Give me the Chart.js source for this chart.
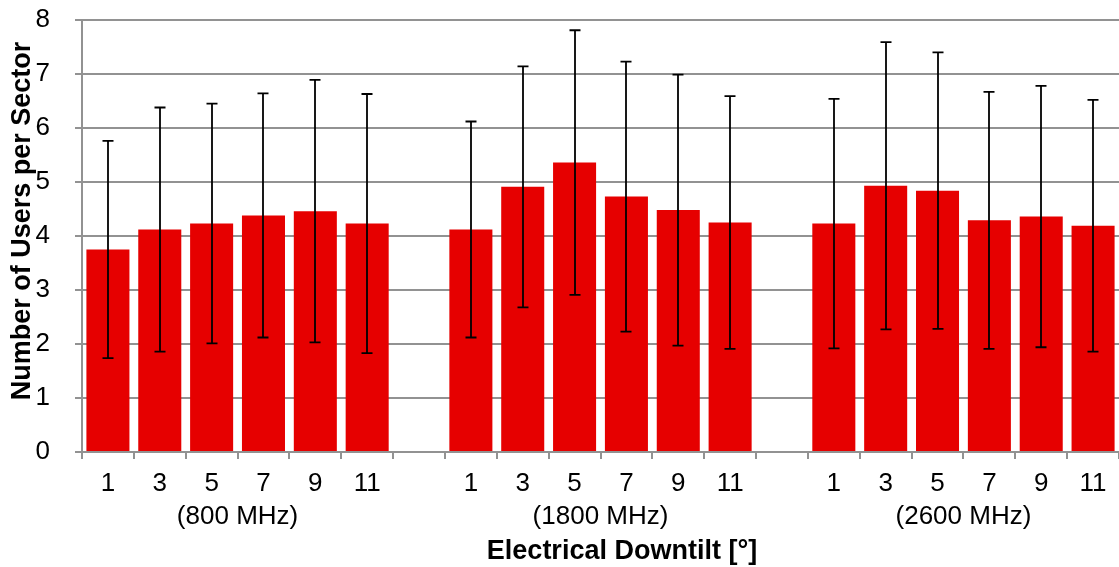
<!DOCTYPE html>
<html>
<head>
<meta charset="utf-8">
<script src="https://cdn.jsdelivr.net/npm/chart.js@4.4.1/dist/chart.umd.min.js"></script>
<style>
  html, body { margin: 0; padding: 0; background: #fff; }
  #wrap { width: 1119px; height: 567px; position: relative; }
</style>
</head>
<body>
<div id="wrap"><canvas id="usersChart"></canvas></div>
<script>
  // 값은 그림에서 읽음 (평균 ± 표준편차)
  const tilts = ['1', '3', '5', '7', '9', '11'];
  const bands = ['(800 MHz)', '(1800 MHz)', '(2600 MHz)'];

  const mean800  = [3.75, 4.12, 4.23, 4.38, 4.46, 4.23];
  const sd800    = [2.01, 2.26, 2.22, 2.26, 2.43, 2.40];
  const mean1800 = [4.12, 4.91, 5.36, 4.73, 4.48, 4.25];
  const sd1800   = [2.00, 2.23, 2.45, 2.50, 2.51, 2.34];
  const mean2600 = [4.23, 4.93, 4.84, 4.29, 4.36, 4.19];
  const sd2600   = [2.31, 2.66, 2.56, 2.38, 2.42, 2.33];

  const yMin = 0, yMax = 8, yStep = 1;
  const yTitle = 'Number of Users per Sector';
  const xTitle = 'Electrical Downtilt [°]';

  const TOKENS = {
    bar: '#E60000',
    grid: '#929292',
    text: '#000000',
    font: "'Liberation Sans', Arial, sans-serif",
  };

  // 그룹 사이에 빈 카테고리 하나씩
  const means = [mean800, mean1800, mean2600];
  const sds = [sd800, sd1800, sd2600];
  const labels = [], values = [], errors = [], groups = [];
  means.forEach((m, g) => {
    if (g > 0) { labels.push(''); values.push(null); errors.push(null); }
    const start = labels.length;
    tilts.forEach((t, i) => { labels.push(t); values.push(m[i]); errors.push(sds[g][i]); });
    groups.push({ text: bands[g], from: start, to: labels.length - 1 });
  });

  // 오차막대
  const ErrorBars = {
    id: 'ErrorBars',
    afterDatasetsDraw(chart) {
      const { ctx } = chart;
      const y = chart.scales.y;
      const bars = chart.getDatasetMeta(0).data;
      const cap = 5.5;
      ctx.save();
      ctx.strokeStyle = '#000';
      ctx.lineWidth = 1.8;
      values.forEach((v, i) => {
        if (v == null) return;
        const x = Math.round(bars[i].x);
        const top = y.getPixelForValue(v + errors[i]);
        const bot = y.getPixelForValue(v - errors[i]);
        ctx.beginPath();
        ctx.moveTo(x, top); ctx.lineTo(x, bot);
        ctx.moveTo(x - cap, top); ctx.lineTo(x + cap, top);
        ctx.moveTo(x - cap, bot); ctx.lineTo(x + cap, bot);
        ctx.stroke();
      });
      ctx.restore();
    }
  };

  // 주파수 그룹 라벨 + 축 제목 (엑셀 위치에 맞춰 직접 그림)
  const GroupLabels = {
    id: 'GroupLabels',
    afterDraw(chart) {
      const { ctx } = chart;
      const x = chart.scales.x;
      ctx.save();
      ctx.fillStyle = TOKENS.text;
      ctx.textAlign = 'center';
      ctx.textBaseline = 'middle';
      ctx.font = '26px ' + TOKENS.font;
      groups.forEach(gr => {
        const cx = (x.getPixelForValue(gr.from) + x.getPixelForValue(gr.to)) / 2;
        ctx.fillText(gr.text, cx, 517);
      });

      ctx.font = 'bold 27px ' + TOKENS.font;
      ctx.fillText(xTitle, 622, 552);

      ctx.translate(23, 221);
      ctx.rotate(-Math.PI / 2);
      ctx.fillText(yTitle, 0, 0);
      ctx.restore();
    }
  };

  new Chart(document.getElementById('usersChart'), {
    type: 'bar',
    data: {
      labels,
      datasets: [{
        data: values,
        backgroundColor: TOKENS.bar,
        borderWidth: 0,
        barPercentage: 0.83,
        categoryPercentage: 1.0
      }]
    },
    options: {
      responsive: true,
      maintainAspectRatio: false,
      animation: false,
      layout: { padding: { top: 20, right: 0, bottom: 0, left: 0 } },
      plugins: { legend: { display: false }, tooltip: { enabled: false } },
      scales: {
        x: {
          afterFit(scale) {
            scale.height = 115;
            scale.paddingLeft = 0; scale.paddingRight = 0;
          },
          grid: {
            offset: true,
            drawOnChartArea: false,
            drawTicks: true,
            tickLength: 7,
            color: TOKENS.grid,
            lineWidth: 2
          },
          border: { display: true, color: TOKENS.grid, width: 2 },
          ticks: {
            color: TOKENS.text,
            padding: 9,
            maxRotation: 0,
            autoSkip: false,
            font: { size: 26, family: TOKENS.font }
          }
        },
        y: {
          min: yMin,
          max: yMax,
          afterFit(scale) {
            scale.width = 82;
            scale.paddingTop = 0; scale.paddingBottom = 0;
          },
          grid: {
            color: TOKENS.grid,
            lineWidth: 2,
            tickLength: 7
          },
          border: { display: true, color: TOKENS.grid, width: 2 },
          ticks: {
            stepSize: yStep,
            color: TOKENS.text,
            padding: 25,
            font: { size: 26, family: TOKENS.font }
          }
        }
      }
    },
    plugins: [ErrorBars, GroupLabels]
  });
</script>
</body>
</html>
